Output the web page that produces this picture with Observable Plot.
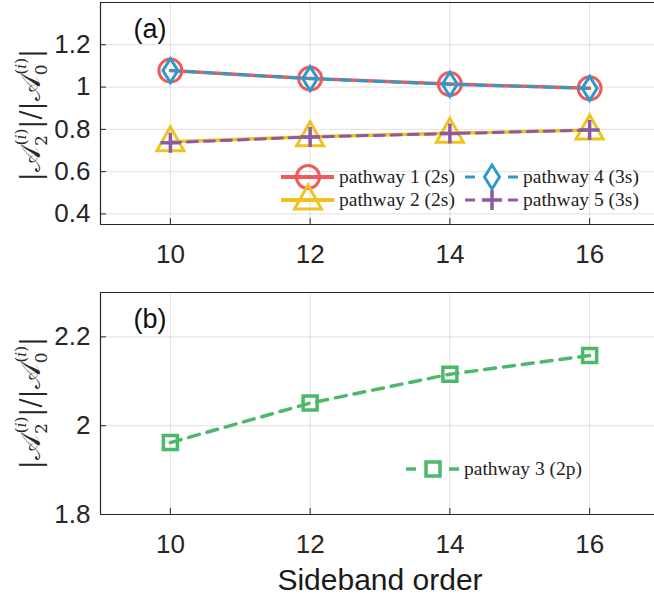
<!DOCTYPE html>
<html>
<head>
<meta charset="utf-8">
<script src="https://cdn.jsdelivr.net/npm/d3@7"></script>
<script src="https://cdn.jsdelivr.net/npm/@observablehq/plot@0.6"></script>
<style>
  html, body { margin: 0; padding: 0; background: white; }
  #chart { width: 654px; }
  #chart svg { display: block; overflow: visible; }
</style>
</head>
<body>
<div id="chart"></div>
<script>
// ---- data ----
const sideband = [10, 12, 14, 16];
const pathway1 = [1.078, 1.040, 1.014, 0.994]; // 2s, solid, circle
const pathway2 = [0.741, 0.765, 0.781, 0.797]; // 2s, solid, triangle
const pathway4 = [1.078, 1.040, 1.013, 0.994]; // 3s, dashed, diamond
const pathway5 = [0.737, 0.764, 0.780, 0.797]; // 3s, dashed, plus
const pathway3 = [1.962, 2.051, 2.116, 2.158]; // 2p, dashed, square
const xTicks = [10, 12, 14, 16];
const yTicksA = [0.4, 0.6, 0.8, 1, 1.2];
const yTicksB = [1.8, 2, 2.2];
const labelsA = ["pathway 1 (2s)", "pathway 2 (2s)", "pathway 4 (3s)", "pathway 5 (3s)"];
const labelB = "pathway 3 (2p)";
const xLabel = "Sideband order";

// ---- styles ----
const C = {red: "#ef5a5a", yellow: "#f0c21e", blue: "#2e9acb", purple: "#8c5aa5", green: "#4cb96a", axis: "#262626"};
const symCircle = {draw(c){ c.moveTo(11.5,0); c.arc(0,0,11.5,0,2*Math.PI); }};
const symDiamond = {draw(c){ c.moveTo(0,-12); c.lineTo(7.5,0); c.lineTo(0,12); c.lineTo(-7.5,0); c.closePath(); }};
const symTriangle = {draw(c){ c.moveTo(0,-15); c.lineTo(13.5,9); c.lineTo(-13.5,9); c.closePath(); }};
const symPlus = {draw(c){ c.moveTo(-10,0); c.lineTo(10,0); c.moveTo(0,-10); c.lineTo(0,10); }};
const symSquare = {draw(c){ c.rect(-7,-7,14,14); }};
const symPath = s => { const p = d3.path(); s.draw(p, 0); return p.toString(); };

const rows = (ys) => sideband.map((x, i) => ({x, y: ys[i]}));

function frameMarks(yDomain, yTicks) {
  return [
    Plot.gridX(xTicks, {stroke: "#000", strokeOpacity: 0.12, strokeWidth: 1}),
    Plot.gridY(yTicks, {stroke: "#000", strokeOpacity: 0.12, strokeWidth: 1}),
    Plot.ruleX([9], {stroke: C.axis, strokeWidth: 1.2}),
    Plot.ruleY([yDomain[0]], {stroke: C.axis, strokeWidth: 1.2}),
    Plot.ruleY([yDomain[1]], {stroke: C.axis, strokeWidth: 1.2}),
    Plot.axisX({ticks: xTicks, tickSize: -6, tickFormat: () => "", stroke: C.axis}),
    Plot.axisX({ticks: xTicks, tickSize: 0, tickPadding: 20, fontSize: 26, fill: C.axis, tickFormat: d3.format("~g")}),
    Plot.axisY({ticks: yTicks, tickSize: -6, tickFormat: () => "", stroke: C.axis}),
    Plot.axisY({ticks: yTicks, tickSize: 0, tickPadding: 10, fontSize: 26, fill: C.axis, tickFormat: d3.format("~g")})
  ];
}

function seriesMarks(ys, color, width, dash, sym, symWidth) {
  return [
    Plot.line(rows(ys), {x: "x", y: "y", stroke: color, strokeWidth: width, strokeDasharray: dash}),
    Plot.dot(rows(ys), {x: "x", y: "y", symbol: sym, r: 10, stroke: color, strokeWidth: symWidth, fill: "none"})
  ];
}

function addYLabel(svg, cx, cy) {
  const t = d3.select(svg).append("text")
    .attr("transform", `translate(${cx},${cy}) rotate(-90)`)
    .attr("text-anchor", "middle")
    .attr("fill", C.axis)
    .style("font-family", "'DejaVu Serif', 'Liberation Serif', serif")
    .style("font-size", "27px");
  const part = (txt, o = {}) => {
    const s = t.append("tspan").text(txt);
    if (o.size) s.style("font-size", o.size + "px");
    if (o.dx) s.attr("dx", o.dx);
    if (o.dy) s.attr("dy", o.dy);
    if (o.italic) s.style("font-style", "italic");
    return s;
  };
  const amp = (sub) => {
    part("𝒜");
    part(sub, {size: 17, dy: 7});
    part("(", {size: 15, dx: -10, dy: -21});
    part("i", {size: 15, italic: true});
    part(")", {size: 15});
  };
  part("|");
  amp("2");
  part("|", {dy: 14});
  part("/");
  part("|");
  amp("0");
  part("|", {dy: 14});
}

function addLegendItem(svg, x0, y, label, color, width, dashed, sym, symWidth) {
  const g = d3.select(svg).append("g");
  const segs = dashed ? [[x0, x0 + 10], [x0 + 43, x0 + 53]] : [[x0, x0 + 53]];
  for (const [a, b] of segs) {
    g.append("line").attr("x1", a).attr("x2", b).attr("y1", y).attr("y2", y)
      .attr("stroke", color).attr("stroke-width", width);
  }
  g.append("path").attr("d", symPath(sym)).attr("transform", `translate(${x0 + 27},${y})`)
    .attr("fill", "none").attr("stroke", color).attr("stroke-width", symWidth);
  g.append("text").attr("x", x0 + 58).attr("y", y).attr("dy", "0.32em")
    .attr("text-anchor", "start")
    .attr("fill", "#222")
    .style("font-family", "'Liberation Serif', 'DejaVu Serif', serif")
    .style("font-size", "19.5px")
    .text(label);
}

// ---- panel (a) ----
const domA = [0.35, 1.4];
const svgA = Plot.plot({
  width: 654, height: 290,
  marginLeft: 100, marginRight: -5, marginTop: 2, marginBottom: 66,
  x: {domain: [9, 17], label: null},
  y: {domain: domA, label: null},
  style: {fontFamily: "'Liberation Sans', Arial, sans-serif", background: "white", color: C.axis, overflow: "visible"},
  marks: [
    ...frameMarks(domA, yTicksA),
    ...seriesMarks(pathway1, C.red, 3.5, null, symCircle, 3),
    ...seriesMarks(pathway2, C.yellow, 3.5, null, symTriangle, 3),
    ...seriesMarks(pathway4, C.blue, 2.8, "10,7", symDiamond, 3),
    ...seriesMarks(pathway5, C.purple, 3, "10,7", symPlus, 3.5),
    Plot.text(["(a)"], {frameAnchor: "top-left", dx: 33, dy: 16, fontSize: 27, fill: "#111", textAnchor: "start"})
  ]
});
addYLabel(svgA, 40, 115);
addLegendItem(svgA, 281, 177, labelsA[0], C.red, 4, false, symCircle, 3);
addLegendItem(svgA, 281, 200, labelsA[1], C.yellow, 4, false, symTriangle, 3);
addLegendItem(svgA, 465, 177, labelsA[2], C.blue, 3, true, symDiamond, 3);
addLegendItem(svgA, 465, 200, labelsA[3], C.purple, 3, true, symPlus, 3.5);

// ---- panel (b) ----
const domB = [1.8, 2.3];
const svgB = Plot.plot({
  width: 654, height: 312,
  marginLeft: 100, marginRight: -5, marginTop: 2, marginBottom: 88,
  x: {domain: [9, 17], label: null},
  y: {domain: domB, label: null},
  style: {fontFamily: "'Liberation Sans', Arial, sans-serif", background: "white", color: C.axis, overflow: "visible"},
  marks: [
    ...frameMarks(domB, yTicksB),
    ...seriesMarks(pathway3, C.green, 3.5, "11,8", symSquare, 3.5),
    Plot.text(["(b)"], {frameAnchor: "top-left", dx: 33, dy: 16, fontSize: 27, fill: "#111", textAnchor: "start"}),
    Plot.text([xLabel], {frameAnchor: "bottom", dy: 75, fontSize: 30, fill: "#1a1a1a"})
  ]
});
addYLabel(svgB, 40, 113);
addLegendItem(svgB, 406, 179, labelB, C.green, 3.5, true, symSquare, 3.5);

document.getElementById("chart").append(svgA, svgB);
</script>
</body>
</html>
